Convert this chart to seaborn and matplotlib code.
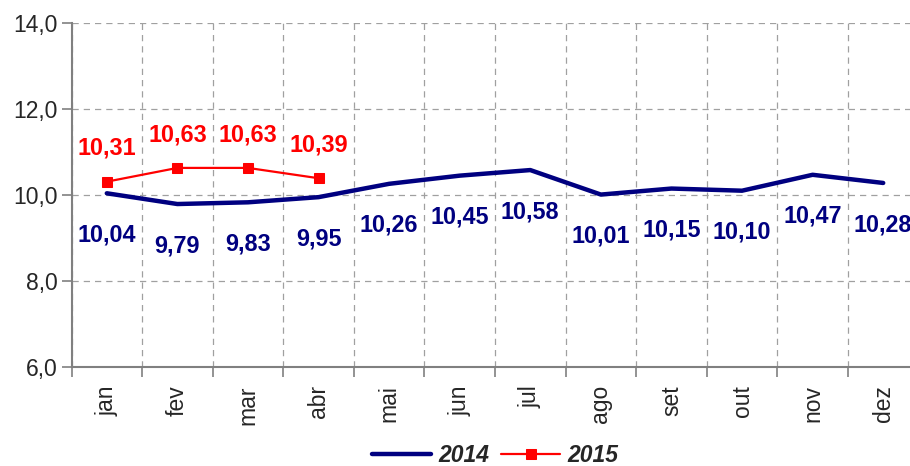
import matplotlib
matplotlib.use("Agg")
import matplotlib.pyplot as plt
import matplotlib.ticker as mticker
import seaborn as sns
import pandas as pd

months = ["jan", "fev", "mar", "abr", "mai", "jun", "jul", "ago", "set", "out", "nov", "dez"]
values_2014 = [10.04, 9.79, 9.83, 9.95, 10.26, 10.45, 10.58, 10.01, 10.15, 10.10, 10.47, 10.28]
values_2015 = [10.31, 10.63, 10.63, 10.39]
y_ticks = [6.0, 8.0, 10.0, 12.0, 14.0]

sns.set_style("white")
plt.rcParams['font.family'] = ['Liberation Sans', 'DejaVu Sans']

df14 = pd.DataFrame({"pos": list(range(len(months))), "v": values_2014})
df15 = pd.DataFrame({"pos": list(range(len(values_2015))), "v": values_2015})

fig = plt.figure(figsize=(9.1, 4.66), dpi=100)
ax = fig.add_axes([71.5/910, 1-367/466, 847/910, (367-23)/466])

navy = "#000080"
red = "#FF0000"
sns.lineplot(data=df14, x="pos", y="v", ax=ax, color=navy, linewidth=3.2, label="2014")
sns.lineplot(data=df15, x="pos", y="v", ax=ax, color=red, linewidth=1.6, marker="s",
             markersize=7, markeredgecolor=red, label="2015")

ax.set_xlim(-0.5, len(months) - 0.5)
ax.set_ylim(6, 14)
ax.set_yticks(y_ticks)
ax.yaxis.set_major_formatter(mticker.FuncFormatter(lambda v, p: f"{v:.1f}".replace(".", ",")))
ax.set_xticks(range(len(months)))
ax.set_xticklabels(months, rotation=90)
ax.set_xticks([i - 0.5 for i in range(len(months) + 1)], minor=True)
ax.set_xlabel("")
ax.set_ylabel("")

ax.tick_params(axis="x", which="major", length=0, labelsize=16.5, pad=13)
ax.tick_params(axis="x", which="minor", length=7, width=1.2, color="#808080", bottom=True)
ax.tick_params(axis="y", length=7, width=1.2, color="#808080", labelsize=16.5, left=True, pad=3)

ax.grid(False)
ax.yaxis.grid(True, linestyle=(0, (5, 4)), color="#A0A0A0", linewidth=0.9)
ax.xaxis.grid(True, which="minor", linestyle=(0, (5, 4)), color="#A0A0A0", linewidth=0.9)
ax.set_axisbelow(True)

for s in ["top", "right"]:
    ax.spines[s].set_visible(False)
for s in ["left", "bottom"]:
    ax.spines[s].set_color("#808080")
    ax.spines[s].set_linewidth(1.5)

for i, v in enumerate(values_2014):
    ax.annotate(f"{v:.2f}".replace(".", ","), (i, v), xytext=(0, -30), textcoords="offset points",
                ha="center", va="center", color=navy, fontsize=16.8, fontweight="bold",
                annotation_clip=False)
for i, v in enumerate(values_2015):
    ax.annotate(f"{v:.2f}".replace(".", ","), (i, v), xytext=(0, 24), textcoords="offset points",
                ha="center", va="center", color=red, fontsize=16.8, fontweight="bold")

handles, labels = ax.get_legend_handles_labels()
ax.get_legend().remove()
fig.legend(handles, labels, loc="center", bbox_to_anchor=(495/910, 1 - 456/466), ncol=2,
           frameon=False, prop={"weight": "bold", "style": "italic", "size": 16.5},
           handlelength=2.6, columnspacing=0.5, handletextpad=0.3)

fig.savefig("out.png", dpi=100)
